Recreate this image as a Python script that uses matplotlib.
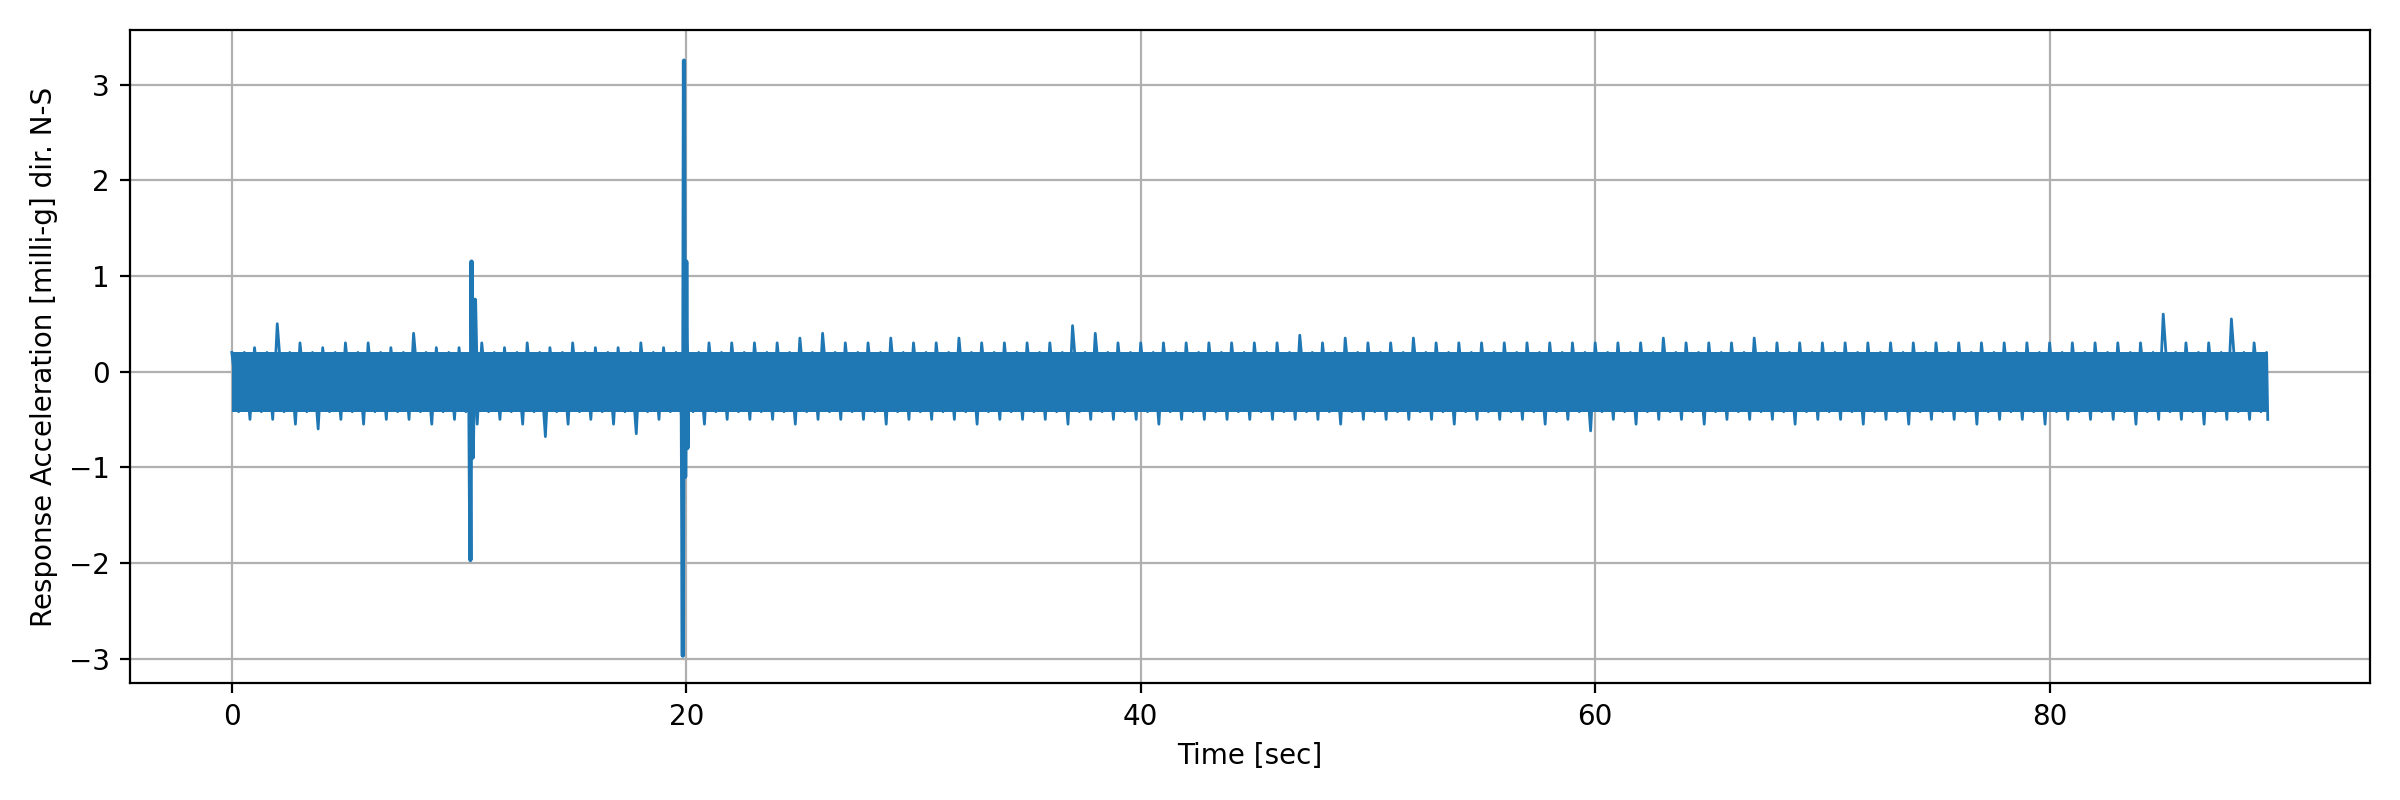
import matplotlib
matplotlib.use("Agg")
import matplotlib.pyplot as plt
import numpy as np

# envelope estimates per second (t = 0..89)
time_sec = list(range(0, 90))
upper = [0.20,0.25,0.50,0.30,0.25,0.30,0.30,0.25,0.40,0.25,0.25,0.30,0.25,0.30,0.25,0.30,0.25,0.25,0.30,0.25,
         0.35,0.30,0.30,0.30,0.30,0.35,0.40,0.30,0.30,0.35,0.30,0.30,0.35,0.30,0.30,0.30,0.30,0.48,0.40,0.30,
         0.30,0.30,0.30,0.30,0.30,0.30,0.30,0.38,0.30,0.35,0.30,0.30,0.35,0.30,0.30,0.30,0.30,0.30,0.30,0.30,
         0.30,0.30,0.30,0.35,0.30,0.30,0.30,0.35,0.30,0.30,0.30,0.30,0.30,0.30,0.30,0.30,0.30,0.30,0.30,0.30,
         0.30,0.30,0.30,0.30,0.30,0.60,0.30,0.30,0.55,0.30]
lower = [-0.50,-0.50,-0.55,-0.60,-0.50,-0.55,-0.50,-0.50,-0.55,-0.50,-0.55,-0.50,-0.55,-0.68,-0.55,-0.50,-0.55,-0.65,-0.50,-0.50,
         -0.55,-0.50,-0.50,-0.50,-0.55,-0.50,-0.50,-0.50,-0.55,-0.50,-0.50,-0.50,-0.55,-0.50,-0.50,-0.50,-0.55,-0.50,-0.50,-0.50,
         -0.55,-0.50,-0.50,-0.50,-0.50,-0.50,-0.50,-0.50,-0.55,-0.50,-0.50,-0.50,-0.50,-0.55,-0.50,-0.50,-0.50,-0.55,-0.50,-0.62,
         -0.50,-0.55,-0.50,-0.50,-0.55,-0.50,-0.50,-0.50,-0.55,-0.50,-0.50,-0.55,-0.50,-0.55,-0.50,-0.50,-0.55,-0.50,-0.50,-0.55,
         -0.50,-0.50,-0.50,-0.55,-0.50,-0.50,-0.55,-0.50,-0.50,-0.50]
# core band (where trace is solid)
core_hi = 0.20
core_lo = -0.42
# transient spikes
spike_t = [10.45, 10.50, 10.55, 10.60, 10.70, 10.80, 19.80, 19.85, 19.90, 19.95, 20.00, 20.05, 20.10]
spike_v = [0.0, -1.97, 1.15, -0.90, 0.75, -0.40, 0.0, -2.97, 3.25, -1.10, 1.15, -0.80, 0.0]
t_end = 89.6

color = "#1f77b4"
fig, ax = plt.subplots(figsize=(12, 4), dpi=200)
ax.set_axisbelow(True)
ax.grid(True, color="#b0b0b0", linewidth=0.8)

t = np.array(time_sec, dtype=float)
up = np.array(upper)
lo = np.array(lower)
# zigzag: one upper peak and one lower peak per second, other turns inside the band
zx, zy = [], []
for i in range(len(t)):
    zx += [t[i], t[i] + 0.3, t[i] + 0.55, t[i] + 0.8]
    zy += [up[i], core_lo, core_hi, lo[i]]
zx = np.clip(zx, 0, t_end)
ax.plot(zx, zy, color=color, linewidth=1.0)
ax.fill_between([0, t_end], core_lo, core_hi, color=color, linewidth=0)
ax.plot(spike_t, spike_v, color=color, linewidth=1.5)

ax.set_xlim(-4.5, 94.1)
ax.set_ylim(-3.26, 3.57)
ax.set_xticks([0, 20, 40, 60, 80])
ax.set_xlabel("Time [sec]")
ax.set_ylabel("Response Acceleration [milli-g] dir. N-S")
fig.tight_layout()
fig.savefig("out.png", dpi=200)
